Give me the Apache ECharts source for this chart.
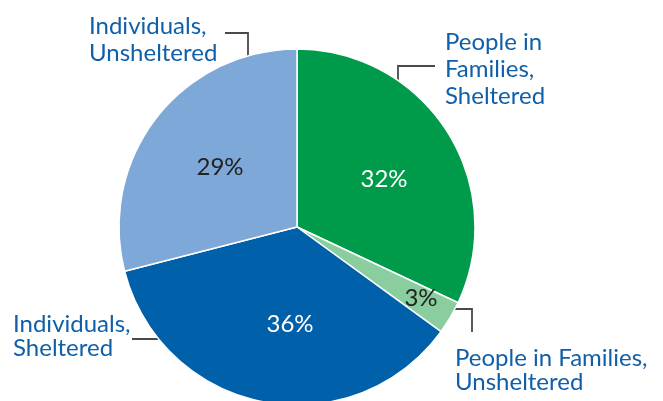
<!DOCTYPE html>
<html>
<head>
<meta charset="utf-8">
<script src="https://cdn.jsdelivr.net/npm/echarts@6/dist/echarts.min.js"></script>
<style>
html,body{margin:0;padding:0;background:#fff;}
#chart{width:663px;height:401px;}
</style>
</head>
<body>
<div id="chart"></div>
<script>
// ---- data ----
const categories = ['People in Families, Sheltered', 'People in Families, Unsheltered', 'Individuals, Sheltered', 'Individuals, Unsheltered'];
const nameLabels = ['People in\nFamilies,\nSheltered', 'People in Families,\nUnsheltered', 'Individuals,\nSheltered', 'Individuals,\nUnsheltered'];
const shares = [32, 3, 36, 29];

// ---- styles / layout ----
const sliceColors = ['#009B4A', '#8ACE9F', '#0060A9', '#7EA8D8'];
const pctColors = ['#ffffff', '#222222', '#ffffff', '#222222'];
const pctPos = [[384, 179], [421, 298], [290, 324], [220, 167]];
const namePos = [[445, 29], [455, 346], [13, 312], [89, 13]];
const nameLineHeight = [27, 24, 24, 27];
const leaderPts = [
  [[435, 66], [398, 66], [398, 110]],
  [[440, 309], [472, 309], [472, 332]],
  [[132, 339], [185, 339]],
  [[225, 33], [248, 33], [248, 79]]
];
const FONT = 'Lato, "Noto Sans", sans-serif';

const chart = echarts.init(document.getElementById('chart'), null, {renderer: 'canvas'});

const baseData = categories.map((c, i) => ({name: c, value: shares[i]}));

chart.setOption({
  animation: false,
  series: [
    {
      type: 'pie',
      center: [297, 227],
      radius: 178,
      startAngle: 90,
      clockwise: true,
      silent: true,
      data: baseData.map((d, i) => ({
        name: d.name, value: d.value,
        itemStyle: {color: sliceColors[i], borderColor: '#ffffff', borderWidth: 1.5},
        label: {color: pctColors[i]}
      })),
      label: {
        show: true,
        position: 'inside',
        formatter: p => shares[p.dataIndex] + '%',
        fontFamily: FONT,
        fontSize: 24,
        fontWeight: 'normal'
      },
      labelLine: {show: false},
      labelLayout: p => ({
        x: pctPos[p.dataIndex][0],
        y: pctPos[p.dataIndex][1],
        align: 'center',
        verticalAlign: 'middle'
      })
    },
    {
      type: 'pie',
      center: [297, 227],
      radius: 178,
      startAngle: 90,
      clockwise: true,
      silent: true,
      avoidLabelOverlap: false,
      data: baseData.map((d, i) => ({
        name: d.name, value: d.value,
        itemStyle: {color: 'rgba(0,0,0,0)', borderWidth: 0},
        label: {lineHeight: nameLineHeight[i]}
      })),
      label: {
        show: true,
        position: 'outside',
        formatter: p => nameLabels[p.dataIndex],
        fontFamily: FONT,
        fontSize: 24,
        color: '#105FA9',
        align: 'left'
      },
      labelLine: {
        show: true,
        lineStyle: {color: '#4a4a4a', width: 1.8}
      },
      labelLayout: p => ({
        x: namePos[p.dataIndex][0],
        y: namePos[p.dataIndex][1],
        align: 'left',
        verticalAlign: 'top',
        labelLinePoints: leaderPts[p.dataIndex]
      })
    }
  ]
});
</script>
</body>
</html>
